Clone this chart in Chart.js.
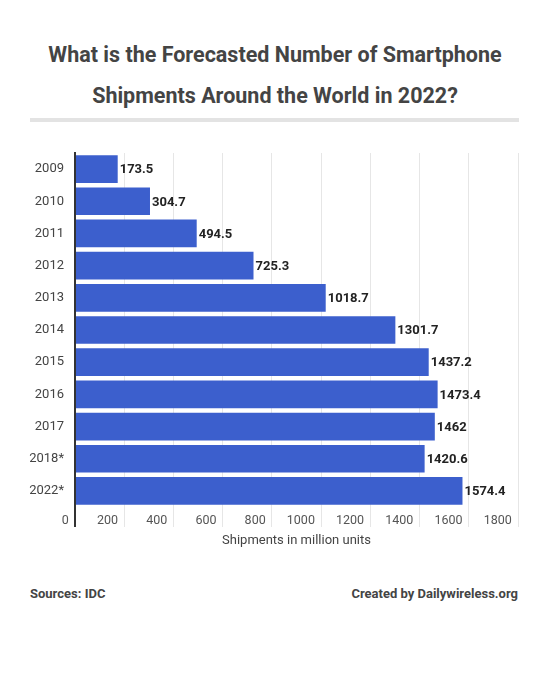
<!DOCTYPE html>
<html>
<head>
<meta charset="utf-8">
<script src="https://cdn.jsdelivr.net/npm/chart.js@4"></script>
<style>
    body { margin: 0; background: #fff; font-family: Roboto, "Noto Sans", sans-serif; }
    #page { position: relative; width: 550px; height: 683px; overflow: hidden; }
    #title {
        position: absolute; left: 0; top: 34px; width: 550px;
        text-align: center; font-weight: bold; font-size: 21.5px; line-height: 41px; color: #444;
    }
    #rule { position: absolute; left: 30px; top: 118px; width: 489px; height: 4px; background: #e3e3e3; }
    #chartBox { position: absolute; left: 0; top: 140px; width: 550px; height: 420px; }
    .foot { position: absolute; top: 586px; font-size: 13px; font-weight: bold; color: #444; }
</style>
</head>
<body>
<div id="page">
    <div id="title">What is the Forecasted Number of Smartphone<br>Shipments Around the World in 2022?</div>
    <div id="rule"></div>
    <div id="chartBox"><canvas id="shipChart" width="550" height="420"></canvas></div>
    <div class="foot" style="left:30px">Sources: IDC</div>
    <div class="foot" style="right:32px">Created by Dailywireless.org</div>
</div>
<script>
const years = ['2009', '2010', '2011', '2012', '2013', '2014', '2015', '2016', '2017', '2018*', '2022*'];
const shipments = [173.5, 304.7, 494.5, 725.3, 1018.7, 1301.7, 1437.2, 1473.4, 1462, 1420.6, 1574.4];
const xTicks = [0, 200, 400, 600, 800, 1000, 1200, 1400, 1600, 1800];

// draws the value at the end of each bar
const valueLabels = {
    id: 'valueLabels',
    afterDatasetsDraw(chart) {
        const ctx = chart.ctx;
        const meta = chart.getDatasetMeta(0);
        ctx.save();
        ctx.font = 'bold 13px Roboto, sans-serif';
        ctx.fillStyle = '#222';
        ctx.textAlign = 'left';
        ctx.textBaseline = 'middle';
        meta.data.forEach((bar, i) => {
            ctx.fillText(String(shipments[i]), bar.x + 2, bar.y + 1);
        });
        ctx.restore();
    }
};

const ctx = document.getElementById('shipChart').getContext('2d');
new Chart(ctx, {
    type: 'bar',
    data: {
        labels: years,
        datasets: [{
            label: 'Shipments',
            data: shipments,
            backgroundColor: '#3c5fcd',
            borderWidth: 0,
            barPercentage: 0.86,
            categoryPercentage: 1
        }]
    },
    options: {
        indexAxis: 'y',
        responsive: false,
        animation: false,
        layout: { padding: { top: 13, right: 32, bottom: 8, left: 0 } },
        plugins: {
            legend: { display: false },
            tooltip: { enabled: false }
        },
        scales: {
            x: {
                min: 0,
                max: 1800,
                afterBuildTicks: (scale) => { scale.ticks = xTicks.map(v => ({ value: v })); },
                afterFit: (scale) => { scale.height = 45; },
                border: { display: false },
                grid: {
                    color: (c) => c.tick && c.tick.value === 0 ? '#333' : '#e6e6e6',
                    lineWidth: (c) => c.tick && c.tick.value === 0 ? 2 : 1,
                    tickLength: 20
                },
                ticks: {
                    align: 'end',
                    padding: -14,
                    color: '#555',
                    font: { family: 'Roboto', size: 12.5 },
                    callback: (v) => v + '  '
                },
                title: {
                    display: true,
                    text: 'Shipments in million units',
                    color: '#444',
                    font: { family: 'Roboto', size: 13 },
                    padding: { top: 0, bottom: 3 }
                }
            },
            y: {
                afterFit: (scale) => { scale.width = 75; },
                border: { display: true, color: '#333', width: 2 },
                grid: { display: false },
                ticks: {
                    padding: 3,
                    color: '#444',
                    font: { family: 'Roboto', size: 13 }
                }
            }
        }
    },
    plugins: [valueLabels]
});
</script>
</body>
</html>
